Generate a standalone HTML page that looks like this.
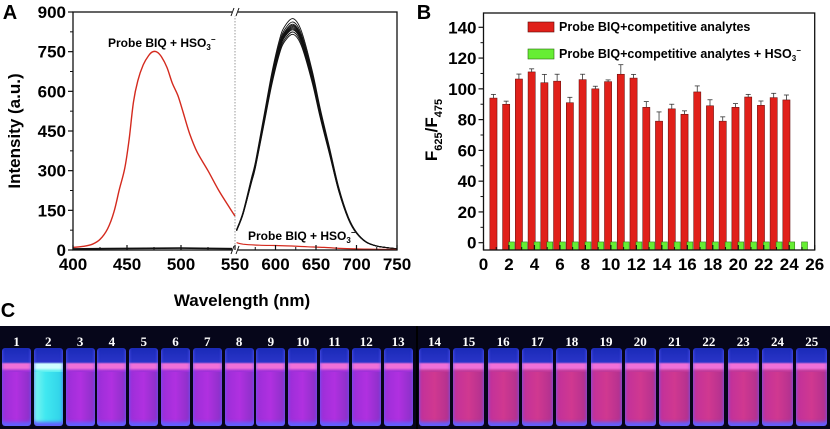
<!DOCTYPE html>
<html><head><meta charset="utf-8">
<style>
body{margin:0;width:830px;height:429px;background:#fff;overflow:hidden;font-family:"Liberation Sans",sans-serif}
svg text{font-family:"Liberation Sans",sans-serif;font-weight:bold}
#photo{position:absolute;left:0;top:326px;width:830px;height:103px;background:#06061a}
.vial{position:absolute;top:22px;height:78px;border-radius:3px}
.num{position:absolute;top:8px;color:#fff;font-family:"Liberation Serif",serif;font-size:13px;font-weight:bold;text-align:center}
</style></head><body>
<svg id="chart" width="830" height="429" style="position:absolute;left:0;top:0"></svg>
<div id="photo"></div>
<script>
// ---------- Panel A data ----------
const redLeftWl=[400,410,418,425,432,438,443,448,452,456,460,465,470,474,478,482,487,492,497,502,508,515,525,535,545,550];
const redLeftI=[10,14,22,40,80,145,230,310,420,560,640,700,735,750,748,730,690,630,585,520,440,370,300,225,160,128];
const blackLeftWl=[400,450,500,550];
const blackLeftI=[4,6,7,5];
const blackWl=[552,560,570,575,585,595,605,612,622,632,645,655,667,678,690,700,712,725,740,750];
const blackI=[75,140,260,320,480,640,770,820,845,800,660,520,370,230,120,65,30,15,8,5];
const blackScales=[0.965,0.975,0.985,0.99,0.995,1.0,1.005,1.01,1.02,1.035];
const redRightWl=[552,560,580,600,620,640,660,680,700,720,750];
const redRightI=[28,22,18,17,15,12,10,6,4,3,2];
const aYTicks=[0,150,300,450,600,750,900];
const aXTicksL=[400,450,500,550];
const aXTicksR=[600,650,700,750];
// ---------- Panel B data ----------
const bRed=[94,90,106.4,111,104,105,91,106,100,104.7,109.5,107,88,79,87,83.5,98,89,79,88,94.7,89.3,94.3,92.8];
const bErr=[2.4,2,3.2,2,5.4,4.5,3.5,3.5,1.7,1.1,6.2,2.4,3.7,6,3,2.2,3.9,3.9,2.8,2.4,1.7,2.8,2.8,3.2];
const bGreen=[0.5,0.5,0.5,0.5,0.5,0.5,0.5,0.5,0.5,0.5,0.5,0.5,0.5,0.5,0.5,0.5,0.5,0.5,0.5,0.5,0.5,0.5,0.5,0.5];
const bYTicks=[0,20,40,60,80,100,120,140];
const bXTicks=[0,2,4,6,8,10,12,14,16,18,20,22,24,26];

const NS='http://www.w3.org/2000/svg';
const svg=document.getElementById('chart');
function mk(tag,attrs,parent){const e=document.createElementNS(NS,tag);for(const k in attrs)e.setAttribute(k,attrs[k]);(parent||svg).appendChild(e);return e;}
function txt(s,x,y,size,anchor,parent){const t=mk('text',{x:x,y:y,'font-size':size,'text-anchor':anchor||'middle'},parent);t.textContent=s;return t;}

// Panel A scales
const aL=73,aR=397,aT=12,aB=250,aBreak=235;
function ay(v){return aB-(v/900)*(aB-aT);}
function axL(w){return aL+(w-400)/150*(aBreak-aL);}
function axR(w){return aBreak+(w-550)/200*(aR-aBreak);}
const gA=mk('g',{});


function poly(xs,ys,fx,color,w,name,scale){
  const pts=xs.map((x,i)=>[fx(x),ay(ys[i]*(scale||1))]);
  let d='M'+pts[0][0].toFixed(1)+','+pts[0][1].toFixed(1);
  for(let i=0;i<pts.length-1;i++){
    const p0=pts[Math.max(0,i-1)],p1=pts[i],p2=pts[i+1],p3=pts[Math.min(pts.length-1,i+2)];
    const c1=[p1[0]+(p2[0]-p0[0])/6,p1[1]+(p2[1]-p0[1])/6],c2=[p2[0]-(p3[0]-p1[0])/6,p2[1]-(p3[1]-p1[1])/6];
    d+='C'+c1[0].toFixed(1)+','+c1[1].toFixed(1)+' '+c2[0].toFixed(1)+','+c2[1].toFixed(1)+' '+p2[0].toFixed(1)+','+p2[1].toFixed(1);
  }
  const p=mk('path',{d:d,fill:'none',stroke:color,'stroke-width':w},gA);
  
  
}
poly(blackLeftWl,blackLeftI,axL,'#111',1.6,'black-curve-left');
poly(redLeftWl,redLeftI,axL,'#d42a1e',1.4,'red-curve-left');
blackScales.forEach((s,i)=>poly(blackWl,blackI,axR,'#111',0.9,'black-curve-'+(i+1),s));
poly(redRightWl,redRightI,axR,'#d42a1e',1.2,'red-curve-right');
mk('rect',{x:aL,y:aT,width:aR-aL,height:aB-aT,fill:'none',stroke:'#111','stroke-width':1.3},gA);
mk('line',{x1:aBreak,y1:aT,x2:aBreak,y2:aB,stroke:'#999','stroke-width':1,'stroke-dasharray':'1.5,1.5'},gA);
[aT,aB].forEach(y=>{mk('rect',{x:aBreak-3,y:y-4,width:6,height:8,fill:'#fff'},gA);
 mk('line',{x1:aBreak-4,y1:y+4,x2:aBreak-1,y2:y-4,stroke:'#111','stroke-width':1},gA);
 mk('line',{x1:aBreak+1,y1:y+4,x2:aBreak+4,y2:y-4,stroke:'#111','stroke-width':1},gA);});
aYTicks.forEach((v,i)=>{const y=ay(v);mk('line',{x1:aL-5,y1:y,x2:aL,y2:y,stroke:'#111','stroke-width':1.2},gA);
 txt(String(v),aL-7,y+6,17,'end',gA);
 if(i<aYTicks.length-1){const ym=ay(v+75);mk('line',{x1:aL-3,y1:ym,x2:aL,y2:ym,stroke:'#111'},gA);}});
aXTicksL.forEach(w=>{const x=axL(w);mk('line',{x1:x,y1:aB,x2:x,y2:aB-5,stroke:'#111','stroke-width':1.2},gA);txt(String(w),x,aB+20,17,'middle',gA);
 if(w<550){const xm=axL(w+25);mk('line',{x1:xm,y1:aB,x2:xm,y2:aB-3,stroke:'#111'},gA);}});
aXTicksR.forEach(w=>{const x=axR(w);mk('line',{x1:x,y1:aB,x2:x,y2:aB-5,stroke:'#111','stroke-width':1.2},gA);txt(String(w),x,aB+20,17,'middle',gA);
 const xm=axR(w-25);mk('line',{x1:xm,y1:aB,x2:xm,y2:aB-3,stroke:'#111'},gA);});
</script>
<script>
(function(){
const g=mk('g',{});


txt('A',10,19,20,'middle',g);
const yt=txt('Intensity (a.u.)',0,0,17,'middle',g);yt.setAttribute('transform','translate(20,131) rotate(-90)');

txt('Wavelength (nm)',242,306,17,'middle',g);
const l1=mk('text',{x:108,y:47,'font-size':12},g);l1.innerHTML='Probe BIQ + HSO<tspan font-size="8" dy="3">3</tspan><tspan font-size="8" dy="-8">−</tspan>';

const l2=mk('text',{x:248,y:240,'font-size':12},g);l2.innerHTML='Probe BIQ + HSO<tspan font-size="8" dy="3">3</tspan><tspan font-size="8" dy="-8">−</tspan>';

txt('C',8,317,20,'middle',g);
// ---------- Panel B ----------
const bL=483.5,bR=814.7,bT=13,bB=250;
const by=v=>242.7-(v)*(242.7-27.3)/140;
const bx=x=>bL+x*(bR-bL)/26;
const gB=mk('g',{});


bRed.forEach((v,i)=>{const c=bx(i+1-0.22);
 const r=mk('rect',{x:c-3.6,y:by(v),width:7.2,height:bB-by(v),fill:'#e0201a',stroke:'#5a0a08','stroke-width':0.5},gB);
 
 
 const t=by(v+bErr[i]);
 mk('line',{x1:c,y1:by(v),x2:c,y2:t,stroke:'#333','stroke-width':0.8},gB);
 mk('line',{x1:c-2.5,y1:t,x2:c+2.5,y2:t,stroke:'#333','stroke-width':0.8},gB);});
bGreen.forEach((v,i)=>{const c=bx(i+1+1.2);
 const r=mk('rect',{x:c-3,y:by(v),width:6,height:bB-by(v),fill:'#66ee33',stroke:'#2a6a10','stroke-width':0.5},gB);
 
 });
mk('rect',{x:bL,y:bT,width:bR-bL,height:bB-bT,fill:'none',stroke:'#111','stroke-width':1.3},gB);
bYTicks.forEach((v,i)=>{const y=by(v);mk('line',{x1:bL-5,y1:y,x2:bL,y2:y,stroke:'#111','stroke-width':1.2},gB);
 txt(String(v),bL-7,y+6,17,'end',gB);
 if(i<bYTicks.length-1){const ym=by(v+10);mk('line',{x1:bL-3,y1:ym,x2:bL,y2:ym,stroke:'#111'},gB);}});
bXTicks.forEach((v,i)=>{const x=bx(v);mk('line',{x1:x,y1:bB,x2:x,y2:bB-5,stroke:'#111','stroke-width':1.2},gB);
 txt(String(v),x,bB+20,17,'middle',gB);
 if(i<bXTicks.length-1){const xm=bx(v+1);mk('line',{x1:xm,y1:bB,x2:xm,y2:bB-3,stroke:'#111'},gB);}});
txt('B',424,19,20,'middle',g);
const byt=mk('text',{'font-size':17,'text-anchor':'middle',transform:'translate(437,130) rotate(-90)'},g);
byt.innerHTML='F<tspan font-size="11" dy="5">625</tspan><tspan dy="-5">/F</tspan><tspan font-size="11" dy="5">475</tspan>';

const lg1=mk('rect',{x:528,y:22,width:26,height:10,fill:'#e0201a',stroke:'#5a0a08','stroke-width':0.6},g);

txt('Probe BIQ+competitive analytes',559,31,12.5,'start',g);
const lg2=mk('rect',{x:528,y:49,width:26,height:10,fill:'#66ee33',stroke:'#2a6a10','stroke-width':0.6},g);

const lt2=mk('text',{x:559,y:58,'font-size':12.5},g);lt2.innerHTML='Probe BIQ+competitive analytes + HSO<tspan font-size="8" dy="3">3</tspan><tspan font-size="8" dy="-8">−</tspan>';

// ---------- Photo ----------
const ph=document.getElementById('photo');
for(let i=0;i<25;i++){
 let x,w;
 if(i<13){x=2+i*31.8;w=29;}else{x=419+(i-13)*34.3;w=31;}
 const v=document.createElement('div');v.className='vial';
 
 
 const body=i===1?'#7ff5f0,#40e8f0 40%,#30d0e8':(i<13?'#9a2ed8,#b030e0 50%,#8a30c8':'#c0309c,#d03890 50%,#b03090');
 const band=i===1?'#d0ffff':'#f070d8';
 v.style.cssText='left:'+x+'px;width:'+w+'px;background:linear-gradient(180deg,#1a2ab8 0,#2a34c8 14px,'+band+' 16px,'+band+' 20px,'+(i===1?'#60f0f0':(i<13?'#a030d8':'#c03898'))+' 23px),linear-gradient(90deg,'+body+');background-size:100% 24px,100% 100%;background-repeat:no-repeat;box-shadow:inset 0 -4px 3px #6060ff;';
 ph.appendChild(v);
 const n=document.createElement('div');n.className='num';n.textContent=String(i+1);
 
 
 n.style.left=x+'px';n.style.width=w+'px';ph.appendChild(n);
}
const sep=document.createElement('div');


sep.style.cssText='position:absolute;left:416px;top:0;width:2px;height:103px;background:#000';ph.appendChild(sep);
})();
</script>
</body></html>
